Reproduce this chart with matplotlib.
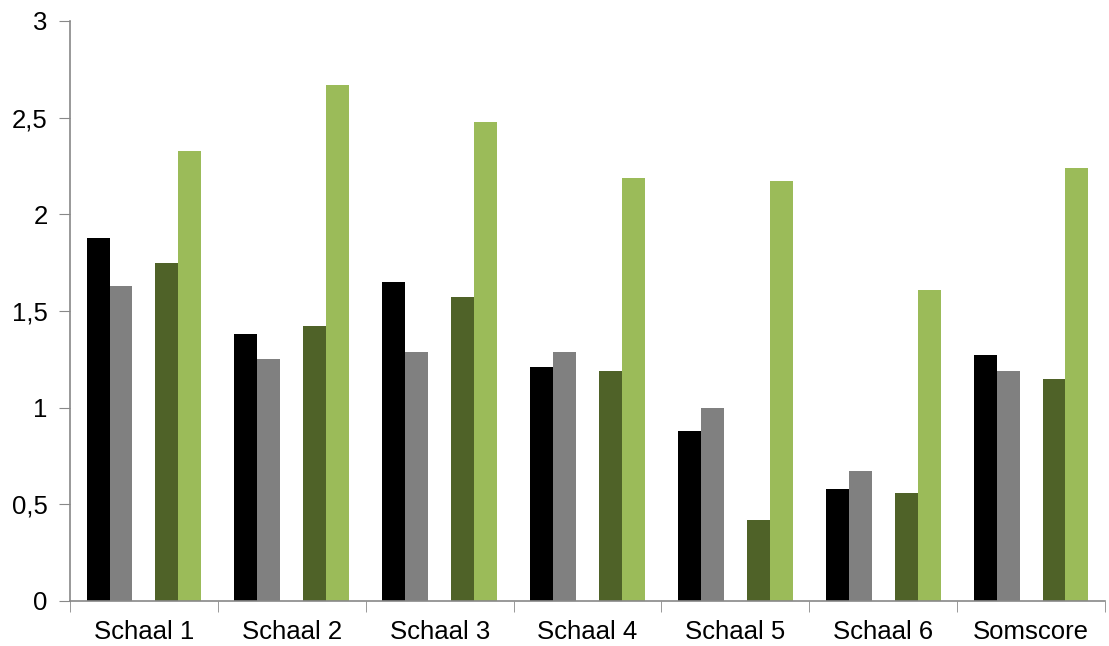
import numpy as np
import matplotlib.pyplot as plt

categories = ["Schaal 1", "Schaal 2", "Schaal 3", "Schaal 4", "Schaal 5", "Schaal 6", "Somscore"]
serie_a = [1.88, 1.38, 1.65, 1.21, 0.88, 0.58, 1.27]
serie_b = [1.63, 1.25, 1.29, 1.29, 1.00, 0.67, 1.19]
serie_c = [0, 0, 0, 0, 0, 0, 0]  # lege reeks (gat tussen de balken)
serie_d = [1.75, 1.42, 1.57, 1.19, 0.42, 0.56, 1.15]
serie_e = [2.33, 2.67, 2.48, 2.19, 2.17, 1.61, 2.24]

series = [serie_a, serie_b, serie_c, serie_d, serie_e]
colors = ["#000000", "#808080", "#ffffff", "#4F6228", "#9BBB59"]

plt.rcParams['font.family'] = ['Liberation Sans', 'DejaVu Sans']

fig = plt.figure(figsize=(11.09, 6.46), dpi=100)
ax = fig.add_axes([70 / 1109, 1 - 601 / 646, (1105 - 70) / 1109, (601 - 21) / 646])

x = np.arange(len(categories))
w = 0.155
for i, (vals, c) in enumerate(zip(series, colors)):
    ax.bar(x + (i - 2) * w, vals, width=w, color=c)

ax.set_xlim(-0.5, len(categories) - 0.5)
ax.set_ylim(0, 3)
ax.set_yticks([0, 0.5, 1, 1.5, 2, 2.5, 3])
ax.set_yticklabels(["0", "0,5", "1", "1,5", "2", "2,5", "3"])
ax.set_xticks(x)
ax.set_xticklabels(categories)
ax.set_xticks(np.arange(len(categories) + 1) - 0.5, minor=True)
ax.tick_params(axis='x', which='major', length=0, pad=14, labelsize=18.5)
ax.tick_params(axis='x', which='minor', length=8, color='#888888', direction='out')
ax.tick_params(axis='y', length=8, color='#888888', labelsize=18.5, pad=8)

for s in ['top', 'right']:
    ax.spines[s].set_visible(False)
for s in ['left', 'bottom']:
    ax.spines[s].set_color('#888888')
    ax.spines[s].set_linewidth(1.2)

plt.savefig("out.png", dpi=100)
